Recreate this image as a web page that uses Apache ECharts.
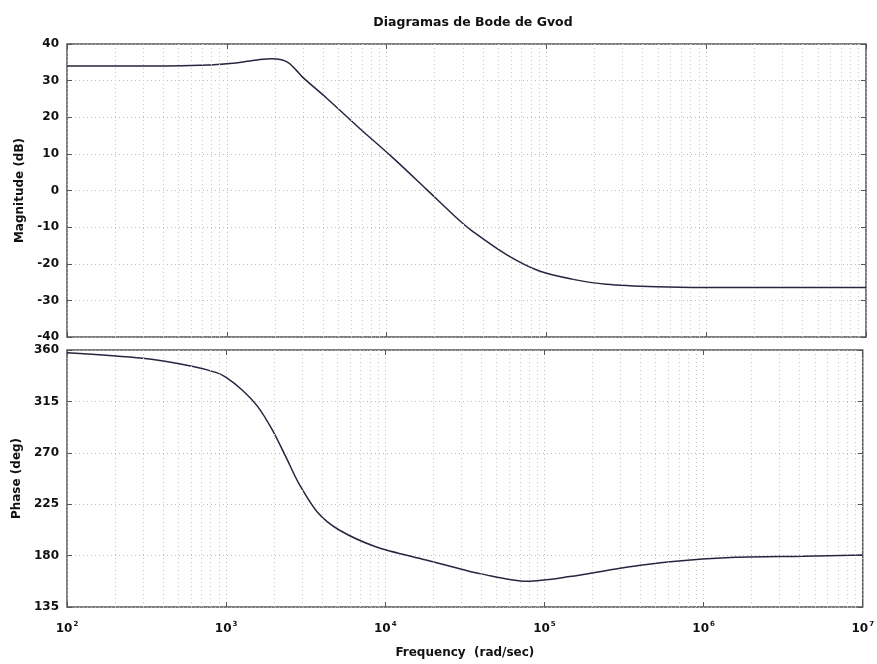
<!DOCTYPE html>
<html>
<head>
<meta charset="utf-8">
<script src="https://cdn.jsdelivr.net/npm/echarts@6/dist/echarts.min.js"></script>
<style>html,body{margin:0;padding:0;background:#fff}#c{width:877px;height:664px}</style>
</head>
<body>
<div id="c"></div>
<script>
// ---- data ----
var magFreq = [100, 316, 780, 1000, 1260, 1580, 1900, 2200, 2450, 2700, 2990, 4220, 6760, 10960, 17780, 28580, 34670, 56230, 90400, 144500, 237100, 489800, 1000000, 10000000];
var magDb   = [34.0, 34.0, 34.3, 34.6, 35.1, 35.7, 36.0, 35.7, 34.8, 33.0, 30.9, 25.2, 17.0, 8.9, 0.3, -8.2, -11.2, -17.5, -22.0, -24.2, -25.6, -26.3, -26.5, -26.5];
var phaseFreq = [100, 300, 620, 870, 1000, 1260, 1580, 1950, 2370, 2860, 3800, 5130, 8710, 17780, 28580, 39810, 77620, 144500, 298500, 616600, 1585000, 4217000, 10000000];
var phaseDeg  = [357.6, 352.7, 345.6, 340.2, 336.0, 325.0, 310.4, 290.0, 266.6, 243.3, 217.0, 202.4, 187.8, 176.3, 169.0, 164.0, 157.5, 161.6, 169.0, 174.7, 178.5, 179.4, 180.5];
var decadeExponents = [2, 3, 4, 5, 6, 7];
var minorMultipliers = [2, 3, 4, 5, 6, 7, 8, 9];
var magTicks = [-40, -30, -20, -10, 0, 10, 20, 30, 40];
var phaseTicks = [135, 180, 225, 270, 315, 360];

var minorGrid = [];
decadeExponents.slice(0, -1).forEach(function (e) {
  minorMultipliers.forEach(function (m) { minorGrid.push(m * Math.pow(10, e)); });
});

function pairs(xs, ys) { return xs.map(function (x, i) { return [x, ys[i]]; }); }

var FONT = '"DejaVu Sans", sans-serif';
var gridLine = { show: true, lineStyle: { color: '#bdbdbd', type: [1, 3], width: 1 } };
var tickStyle = { show: true, inside: true, length: 5, lineStyle: { color: '#555' } };

function xAxisFor(idx, showLabels, pos) {
  return {
    type: 'log', logBase: 10, gridIndex: idx, min: 100, max: 1e7, position: pos,
    axisLine: { show: false, onZero: false },
    axisTick: tickStyle,
    splitLine: pos === 'bottom' ? gridLine : { show: false },
    axisLabel: {
      show: showLabels, margin: 14, color: '#111', fontFamily: FONT, fontWeight: 'bold', fontSize: 12,
      formatter: function (v) { return '10{s|' + Math.round(Math.log10(v)) + '}'; },
      rich: { s: { fontSize: 7, fontWeight: 'bold', color: '#111', fontFamily: FONT, padding: [0, 0, 9, 1] } }
    }
  };
}
function yAxisFor(idx, min, max, step, name, pos) {
  var a = {
    type: 'value', gridIndex: idx, min: min, max: max, interval: step, position: pos,
    axisLine: { show: false, onZero: false },
    axisTick: tickStyle,
    splitLine: pos === 'left' ? gridLine : { show: false },
    axisLabel: { show: pos === 'left', color: '#111', fontFamily: FONT, fontWeight: 'bold', fontSize: 12, margin: 8 }
  };
  if (name) {
    a.name = name; a.nameLocation = 'middle'; a.nameGap = 41;
    a.nameTextStyle = { color: '#111', fontFamily: FONT, fontWeight: 'bold', fontSize: 12 };
  }
  return a;
}
function minorMarks() {
  return {
    silent: true, symbol: ['none', 'none'], animation: false,
    label: { show: false },
    lineStyle: { color: '#c8c8c8', type: [1, 3], width: 1 },
    data: minorGrid.map(function (v) { return { xAxis: v }; })
  };
}

var bottomX = xAxisFor(1, true, 'bottom');
bottomX.name = 'Frequency  (rad/sec)'; bottomX.nameLocation = 'middle'; bottomX.nameGap = 40;
bottomX.nameTextStyle = { color: '#111', fontFamily: FONT, fontWeight: 'bold', fontSize: 12 };

var chart = echarts.init(document.getElementById('c'), null, { renderer: 'canvas' });
chart.setOption({
  animation: false,
  backgroundColor: '#fff',
  title: {
    text: 'Diagramas de Bode de Gvod', left: 468, top: 11, textAlign: 'center',
    textStyle: { fontFamily: FONT, fontWeight: 'bold', fontSize: 12.5, color: '#111' }
  },
  grid: [
    { left: 67, top: 44, width: 799, height: 293, show: true, borderColor: '#555', borderWidth: 1.5, backgroundColor: 'transparent' },
    { left: 67, top: 350, width: 799, height: 257, show: true, borderColor: '#555', borderWidth: 1.5, backgroundColor: 'transparent' }
  ],
  xAxis: [
    xAxisFor(0, false, 'bottom'),
    bottomX,
    xAxisFor(0, false, 'top'),
    xAxisFor(1, false, 'top')
  ],
  yAxis: [
    yAxisFor(0, magTicks[0], magTicks[magTicks.length - 1], 10, 'Magnitude (dB)', 'left'),
    yAxisFor(1, phaseTicks[0], phaseTicks[phaseTicks.length - 1], 45, 'Phase (deg)', 'left'),
    yAxisFor(0, magTicks[0], magTicks[magTicks.length - 1], 10, null, 'right'),
    yAxisFor(1, phaseTicks[0], phaseTicks[phaseTicks.length - 1], 45, null, 'right')
  ],
  series: [
    { type: 'line', xAxisIndex: 0, yAxisIndex: 0, data: pairs(magFreq, magDb), smooth: 0.3, showSymbol: false,
      lineStyle: { color: '#262640', width: 1.5 }, markLine: minorMarks() },
    { type: 'line', xAxisIndex: 1, yAxisIndex: 1, data: pairs(phaseFreq, phaseDeg), smooth: 0.3, showSymbol: false,
      lineStyle: { color: '#262640', width: 1.5 }, markLine: minorMarks() }
  ]
});
</script>
</body>
</html>
